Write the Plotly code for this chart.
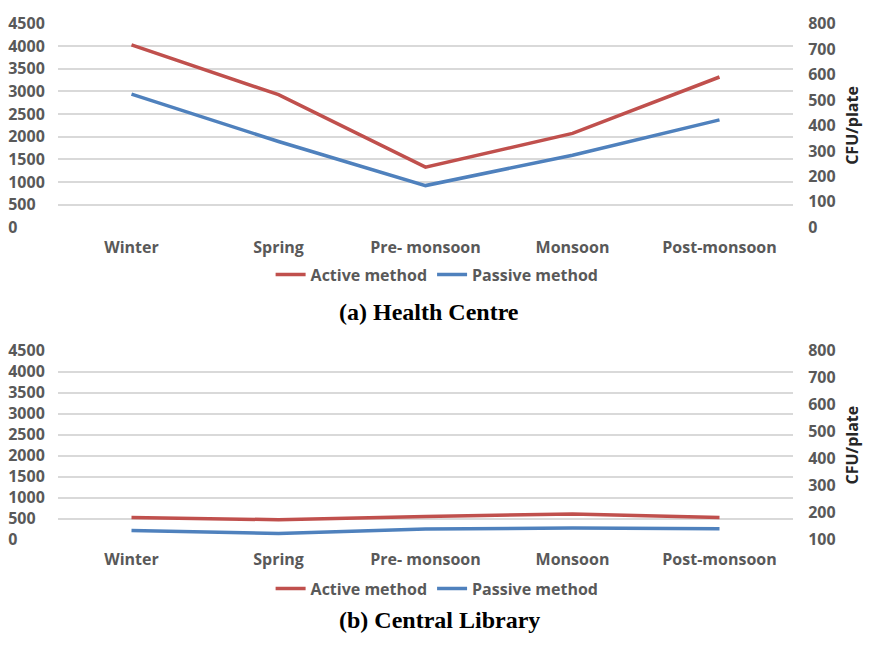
import plotly.graph_objects as go

seasons = ["Winter", "Spring", "Pre- monsoon", "Monsoon", "Post-monsoon"]

# (a) Health Centre
hc_active = [4030, 2930, 1330, 2075, 3320]      # left axis
hc_passive = [523, 337, 164, 283, 422]          # right axis, CFU/plate

# (b) Central Library
cl_active = [529, 474, 548, 612, 529]           # left axis
cl_passive = [134, 123, 139, 143, 140]          # right axis, CFU/plate

left_ticks = [0, 500, 1000, 1500, 2000, 2500, 3000, 3500, 4000, 4500]
right_ticks_a = [0, 100, 200, 300, 400, 500, 600, 700, 800]
right_ticks_b = [100, 200, 300, 400, 500, 600, 700, 800]

RED = "#C0504D"
BLUE = "#4F81BD"
GRID = "#D9D9D9"
TICKC = "#595959"
FONT = "Open Sans"
W, H = 869, 645

# left-aligned left tick labels (pad with figure spaces)
left_text = [str(v) + "\u2007" * (4 - len(str(v))) for v in left_ticks]

fig = go.Figure()
fig.add_trace(go.Scatter(x=seasons, y=hc_active, mode="lines", name="Active method",
                         line=dict(color=RED, width=3.5), xaxis="x", yaxis="y", legend="legend"))
fig.add_trace(go.Scatter(x=seasons, y=hc_passive, mode="lines", name="Passive method",
                         line=dict(color=BLUE, width=3.5), xaxis="x", yaxis="y2", legend="legend"))
fig.add_trace(go.Scatter(x=seasons, y=cl_active, mode="lines", name="Active method",
                         line=dict(color=RED, width=3.5), xaxis="x2", yaxis="y3", legend="legend2"))
fig.add_trace(go.Scatter(x=seasons, y=cl_passive, mode="lines", name="Passive method",
                         line=dict(color=BLUE, width=3.5), xaxis="x2", yaxis="y4", legend="legend2"))

xdom = [58 / W, 793 / W]
top_dom = [(H - 224) / H, (H - 13) / H]
bot_dom = [(H - 547.3) / H, (H - 351.7) / H]

tickfont = dict(family=FONT, size=16, color=TICKC, weight="bold")
titlefont = dict(family=FONT, size=16, color="#262626", weight="bold")

xcommon = dict(showgrid=False, zeroline=False, showline=False, tickfont=tickfont,
               ticks="outside", ticklen=5, tickcolor="rgba(0,0,0,0)", range=[-0.5, 4.5],
               type="category")
ylcommon = dict(showgrid=True, gridcolor=GRID, gridwidth=1.5, zeroline=False, showline=False,
                tickfont=tickfont, ticks="outside", ticklen=9, tickcolor="rgba(0,0,0,0)",
                range=[0, 4500], tickvals=left_ticks, ticktext=left_text)
yrcommon = dict(showgrid=False, zeroline=False, showline=False, tickfont=tickfont,
                ticks="outside", ticklen=11, tickcolor="rgba(0,0,0,0)", side="right",
                title=dict(text="CFU/plate", font=titlefont, standoff=12))

fig.update_layout(
    width=W, height=H, margin=dict(l=0, r=0, t=0, b=0),
    plot_bgcolor="white", paper_bgcolor="white",
    xaxis=dict(domain=xdom, anchor="y", **xcommon),
    xaxis2=dict(domain=xdom, anchor="y3", **xcommon),
    yaxis=dict(domain=top_dom, anchor="x", **ylcommon),
    yaxis2=dict(overlaying="y", anchor="x", range=[0, 800], tickvals=right_ticks_a, **yrcommon),
    yaxis3=dict(domain=bot_dom, anchor="x2", **ylcommon),
    yaxis4=dict(overlaying="y3", anchor="x2", range=[100, 800], tickvals=right_ticks_b, **yrcommon),
    legend=dict(orientation="h", x=0.503, xanchor="center", y=(H - 273) / H, yanchor="middle",
                font=dict(family=FONT, size=16, color=TICKC, weight="bold"), bgcolor="rgba(0,0,0,0)"),
    legend2=dict(orientation="h", x=0.503, xanchor="center", y=(H - 598) / H, yanchor="middle",
                 font=dict(family=FONT, size=16, color=TICKC, weight="bold"), bgcolor="rgba(0,0,0,0)"),
    annotations=[
        dict(text="(a) Health Centre", x=429 / W, y=(H - 312) / H, xref="paper", yref="paper",
             showarrow=False, xanchor="center", yanchor="middle",
             font=dict(family="Liberation Serif", size=24, color="black", weight="bold")),
        dict(text="(b) Central Library", x=439 / W, y=(H - 631) / H, xref="paper", yref="paper",
             showarrow=False, xanchor="center", yanchor="middle",
             font=dict(family="Liberation Serif", size=24, color="black", weight="bold")),
    ],
)

fig.write_html("out.html")
